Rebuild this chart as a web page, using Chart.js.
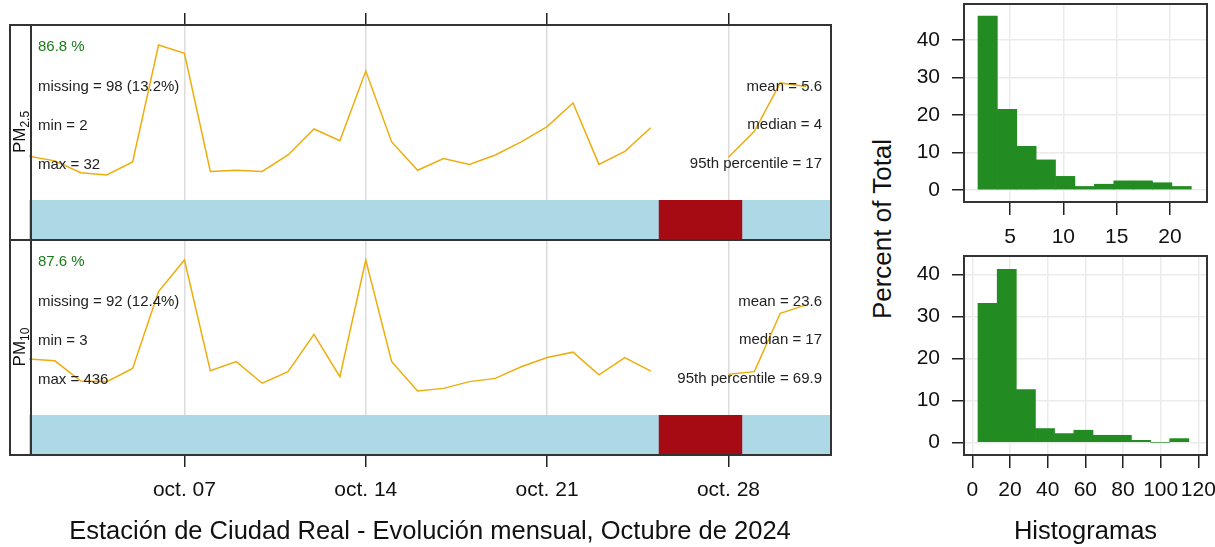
<!DOCTYPE html>
<html>
<head>
<meta charset="utf-8">
<script src="https://cdn.jsdelivr.net/npm/chart.js@4.4.1/dist/chart.umd.min.js"></script>
<style>
  html, body { margin: 0; padding: 0; background: #fff; overflow: hidden; }
  body { width: 1215px; height: 547px; position: relative; font-family: "Liberation Sans", Arial, sans-serif; color: #111; }
  canvas { position: absolute; }
  .line { position: absolute; background: #333; }
  .frame { position: absolute; border: 2px solid #333; box-sizing: border-box; }
  .rot { position: absolute; white-space: nowrap; transform: translate(-50%, -50%) rotate(-90deg); }
  .strip { font-size: 17px; }
  .strip sub { font-size: 12px; vertical-align: -4px; }
</style>
</head>
<body>
<canvas id="ts1" width="802" height="227" style="left:29px;top:13px"></canvas>
<canvas id="ts2" width="802" height="307" style="left:29px;top:240px"></canvas>
<canvas id="h1" width="315" height="260" style="left:900px;top:0px"></canvas>
<canvas id="h2" width="315" height="307" style="left:900px;top:240px"></canvas>

<div class="frame" style="left:9px;top:24px;width:823px;height:432px"></div>
<div class="line" style="left:30px;top:24px;width:2px;height:432px"></div>
<div class="line" style="left:9px;top:239px;width:823px;height:2px"></div>
<div class="rot strip" style="left:21px;top:132px">PM<sub>2.5</sub></div>
<div class="rot strip" style="left:21px;top:347px">PM<sub>10</sub></div>
<div class="rot" style="left:882px;top:229px;font-size:26px">Percent of Total</div>

<script>
const FONT = '"Liberation Sans", Arial, sans-serif';

// daily means, October 2024 (null = no data)
const days = [1, 2, 3, 4, 5, 6, 7, 8, 9, 10, 11, 12, 13, 14, 15, 16, 17, 18, 19, 20, 21, 22, 23, 24, 25, 26, 27, 28, 29, 30, 31];
const pm25Daily = [4.6, 4.2, 3.2, 3.0, 4.1, 14.0, 13.3, 3.3, 3.4, 3.3, 4.7, 6.9, 5.9, 11.8, 5.8, 3.4, 4.4, 3.9, 4.7, 5.8, 7.1, 9.1, 3.9, 5.0, 7.0, null, null, 4.5, 6.7, 10.8, 10.5];
const pm10Daily = [23.4, 22.7, 15.2, 15.0, 19.9, 48.3, 60.0, 19.0, 22.4, 14.4, 18.7, 32.5, 16.8, 60.0, 22.4, 11.5, 12.5, 15.0, 16.2, 20.5, 23.9, 25.9, 17.5, 23.9, 18.9, null, null, 17.7, 18.7, 40.3, 43.4];

// missing data block, in days since oct 1 00:00
const missingSpan = [24.3, 27.54];
const monthEnd = 30.958;

const tickDays = [6, 13, 20, 27];
const tickLabels = ['oct. 07', 'oct. 14', 'oct. 21', 'oct. 28'];

const pm25Stats = { capture: '86.8 %', left: ['missing = 98 (13.2%)', 'min = 2', 'max = 32'], right: ['mean = 5.6', 'median = 4', '95th percentile = 17'] };
const pm10Stats = { capture: '87.6 %', left: ['missing = 92 (12.4%)', 'min = 3', 'max = 436'], right: ['mean = 23.6', 'median = 17', '95th percentile = 69.9'] };

// histograms (percent of total per bin)
const pm25Edges = [2, 3.82, 5.64, 7.45, 9.27, 11.09, 12.91, 14.73, 16.55, 18.36, 20.18, 22];
const pm25Pct = [46.4, 21.5, 11.6, 8.0, 3.6, 0.9, 1.5, 2.4, 2.4, 1.9, 0.9];
const pm10Edges = [3, 13.2, 23.4, 33.5, 43.7, 53.9, 64.1, 74.3, 84.5, 94.6, 104.8, 115];
const pm10Pct = [33.1, 41.2, 12.6, 3.3, 2.1, 2.9, 1.7, 1.7, 0.5, 0, 0.9];
const pm25HistTicks = [5, 10, 15, 20];
const pm10HistTicks = [0, 20, 40, 60, 80, 100, 120];
const pctTicks = [0, 10, 20, 30, 40];

// text inside the time series panels
const statsText = {
  id: 'statsText',
  afterDatasetsDraw(chart, args, opts) {
    const { ctx, chartArea: a } = chart;
    ctx.save();
    ctx.font = '15px ' + FONT;
    ctx.textBaseline = 'middle';
    ctx.textAlign = 'left';
    ctx.fillStyle = '#1a7a1a';
    ctx.fillText(opts.capture, a.left + 9, a.top + 22);
    ctx.fillStyle = '#222';
    opts.left.forEach((t, i) => ctx.fillText(t, a.left + 9, a.top + 62 + i * 38.7));
    ctx.textAlign = 'right';
    opts.right.forEach((t, i) => ctx.fillText(t, a.right - 9, a.top + 61.5 + i * 38.8));
    ctx.restore();
  }
};

const frame = {
  id: 'frame',
  afterDraw(chart) {
    const { ctx, chartArea: a } = chart;
    ctx.save();
    ctx.strokeStyle = '#333';
    ctx.lineWidth = 2;
    ctx.strokeRect(a.left, a.top, a.width, a.height);
    ctx.restore();
  }
};

function tsChart(id, values, yMin, yMax, barTop, stats, bottom) {
  return new Chart(document.getElementById(id), {
    type: 'line',
    data: {
      datasets: [
        { data: days.map((d, i) => ({ x: d - 1, y: values[i] })), borderColor: '#EEAD0E', borderWidth: 1.5, pointRadius: 0, spanGaps: false, fill: false, order: 0 },
        { data: [{ x: missingSpan[0], y: barTop }, { x: missingSpan[1], y: barTop }], borderWidth: 0, pointRadius: 0, fill: { value: yMin }, backgroundColor: '#A60A12', order: 1 },
        { data: [{ x: 0, y: barTop }, { x: monthEnd, y: barTop }], borderWidth: 0, pointRadius: 0, fill: { value: yMin }, backgroundColor: '#ADD8E6', order: 2 }
      ]
    },
    options: {
      responsive: false, animation: false, events: [],
      layout: { padding: 0 },
      plugins: { legend: { display: false }, tooltip: { enabled: false }, statsText: stats },
      scales: {
        x: {
          type: 'linear', position: bottom ? 'bottom' : 'top', min: 0, max: monthEnd,
          afterBuildTicks: s => { s.ticks = tickDays.map(v => ({ value: v })); },
          afterFit: s => { s.height = bottom ? 92 : 12; s.paddingLeft = 0; s.paddingRight = 0; },
          grid: { color: '#dcdcdc', lineWidth: 1.5, tickColor: '#222', tickWidth: 1.5, tickLength: 12 },
          border: { display: false },
          ticks: { display: bottom, callback: (v, i) => tickLabels[i], font: { size: 21, family: FONT }, color: '#111', padding: 11, maxRotation: 0, autoSkip: false },
          title: { display: bottom, text: 'Estación de Ciudad Real - Evolución mensual, Octubre de 2024', font: { size: 25.5, family: FONT }, color: '#111', padding: { top: 0, bottom: 0 } }
        },
        y: { display: false, min: yMin, max: yMax }
      }
    },
    plugins: [statsText]
  });
}

function histChart(id, edges, pct, xMin, xMax, xTicks, yMin, yMax, padTop, xHeight, title) {
  return new Chart(document.getElementById(id), {
    type: 'bar',
    data: {
      datasets: [{
        data: pct.map((p, i) => ({ x: (edges[i] + edges[i + 1]) / 2, y: p })),
        backgroundColor: '#228B22', borderWidth: 0, barPercentage: 1, categoryPercentage: 1, grouped: false
      }]
    },
    options: {
      responsive: false, animation: false, events: [],
      layout: { padding: { top: padTop, right: 8, left: 0, bottom: 0 } },
      plugins: { legend: { display: false }, tooltip: { enabled: false } },
      scales: {
        x: {
          type: 'linear', offset: false, min: xMin, max: xMax,
          afterBuildTicks: s => { s.ticks = xTicks.map(v => ({ value: v })); },
          afterFit: s => { s.height = xHeight; s.paddingLeft = 0; s.paddingRight = 0; },
          grid: { offset: false, color: '#ebebeb', lineWidth: 1.5, tickColor: '#222', tickWidth: 1.5, tickLength: 13 },
          border: { display: false },
          ticks: { font: { size: 21, family: FONT }, color: '#111', padding: 10, maxRotation: 0, autoSkip: false },
          title: { display: !!title, text: title, font: { size: 25.5, family: FONT }, color: '#111', padding: { top: 0, bottom: 0 } }
        },
        y: {
          min: yMin, max: yMax,
          afterBuildTicks: s => { s.ticks = pctTicks.map(v => ({ value: v })); },
          afterFit: s => { s.width = 64; s.paddingTop = 0; s.paddingBottom = 0; },
          grid: { color: '#ebebeb', lineWidth: 1.5, tickColor: '#222', tickWidth: 1.5, tickLength: 12 },
          border: { display: false },
          ticks: { font: { size: 21, family: FONT }, color: '#111', padding: 12 }
        }
      }
    },
    plugins: [frame]
  });
}

tsChart('ts1', pm25Daily, -2.5, 15.7, 0.89, pm25Stats, false);
tsChart('ts2', pm10Daily, -12.15, 67.4, 2.65, pm10Stats, true);
histChart('h1', pm25Edges, pm25Pct, 0.69, 23.47, pm25HistTicks, -3.25, 49.65, 4, 58, '');
histChart('h2', pm10Edges, pm10Pct, -4.4, 124.6, pm10HistTicks, -3.0, 44.4, 16, 92, 'Histogramas');
</script>
</body>
</html>
